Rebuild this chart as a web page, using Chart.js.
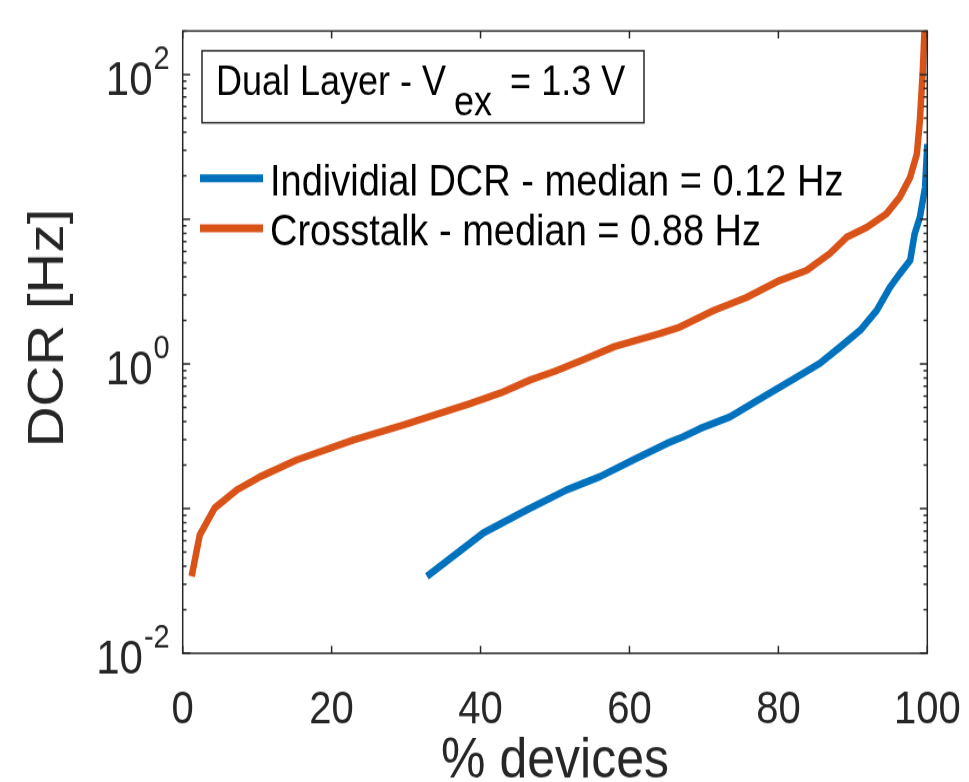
<!DOCTYPE html>
<html>
<head>
<meta charset="utf-8">
<script src="https://cdn.jsdelivr.net/npm/chart.js@4.4.1/dist/chart.umd.min.js"></script>
<style>
  html, body { margin: 0; padding: 0; background: #fff; overflow: hidden; }
  #chart { display: block; }
</style>
</head>
<body>
<canvas id="chart" width="969" height="692" style="width:969px;height:782px"></canvas>
<script>
// values (x = % devices, y = DCR in Hz)
const individualX = [32.8, 40.4, 46.2, 51.6, 56.0, 60.5, 65.0, 67.2, 69.5, 73.5, 78.0, 82.5, 85.6, 88.3, 91.0, 93.2, 95.0, 96.3, 97.7, 98.3, 99.0, 99.7, 100];
const individualDCR = [0.034, 0.068, 0.098, 0.135, 0.166, 0.217, 0.282, 0.314, 0.358, 0.431, 0.592, 0.813, 1.01, 1.31, 1.71, 2.34, 3.40, 4.20, 5.19, 7.94, 10.3, 16.6, 33.1];
const crosstalkX = [1.2, 2.3, 4.3, 7.3, 10.4, 15.3, 22.9, 29.6, 38.6, 42.7, 46.7, 50.0, 54.0, 58.0, 64.1, 66.8, 71.3, 75.7, 80.2, 83.8, 86.9, 89.2, 91.9, 94.5, 96.3, 97.7, 98.6, 99.0, 99.4, 99.7];
const crosstalkDCR = [0.034, 0.066, 0.101, 0.135, 0.166, 0.217, 0.298, 0.378, 0.533, 0.63, 0.776, 0.89, 1.08, 1.32, 1.62, 1.80, 2.34, 2.88, 3.78, 4.43, 5.79, 7.52, 8.81, 10.9, 14.2, 19.5, 28.2, 47.9, 107, 250];

const seriesLabels = ['Individial DCR - median = 0.12 Hz', 'Crosstalk - median = 0.88 Hz'];
const xTicks = [0, 20, 40, 60, 80, 100];
const yTicks = [0.01, 1, 100];
const yTickExp = ['-2', '0', '2'];
const boxText = ['Dual Layer - V', 'ex', ' = 1.3 V'];

const FONT = '"Liberation Sans", Arial, Helvetica, sans-serif';
const AXIS = '#262626';

// box, inward ticks, y labels with exponents, legend and text box
const axesBox = {
  id: 'axesBox',
  afterDatasetsDraw(chart) {
    const { ctx, chartArea: a, scales: { x, y } } = chart;
    ctx.save();
    ctx.strokeStyle = AXIS;
    ctx.lineWidth = 1.5;
    ctx.strokeRect(a.left, a.top, a.right - a.left, a.bottom - a.top);

    ctx.beginPath();
    xTicks.forEach(v => {
      const px = x.getPixelForValue(v);
      ctx.moveTo(px, a.bottom); ctx.lineTo(px, a.bottom - 6.5);
      ctx.moveTo(px, a.top); ctx.lineTo(px, a.top + 6.5);
    });
    for (let e = -2; e <= 2; e++) {
      for (let m = 1; m <= 9; m++) {
        const v = m * Math.pow(10, e);
        if (v < y.min || v > y.max) continue;
        const py = y.getPixelForValue(v);
        const len = m === 1 ? 7.5 : 3.8;
        ctx.moveTo(a.left, py); ctx.lineTo(a.left + len, py);
        ctx.moveTo(a.right, py); ctx.lineTo(a.right - len, py);
      }
    }
    ctx.stroke();

    // y tick labels 10^n
    ctx.fillStyle = AXIS;
    ctx.textAlign = 'right';
    ctx.textBaseline = 'middle';
    yTicks.forEach((v, i) => {
      const py = y.getPixelForValue(v);
      const ex = a.left - 13;
      ctx.font = '29px ' + FONT;
      const ew = ctx.measureText(yTickExp[i]).width;
      ctx.fillText(yTickExp[i], ex, py - 13);
      ctx.font = '42px ' + FONT;
      ctx.fillText('10', ex - ew - 1, py + 6);
    });

    // legend (no frame)
    ctx.textAlign = 'left';
    ctx.font = '38px ' + FONT;
    chart.data.datasets.forEach((ds, i) => {
      const ly = a.top + 130.4 + i * 44.2;
      ctx.strokeStyle = ds.borderColor;
      ctx.lineWidth = 7;
      ctx.beginPath();
      ctx.moveTo(a.left + 17.3, ly);
      ctx.lineTo(a.left + 80.3, ly);
      ctx.stroke();
      ctx.fillStyle = '#000';
      ctx.fillText(ds.label, a.left + 87.3, ly + 5);
    });

    // text box
    const bx = a.left + 19.3, by = a.top + 17.5;
    ctx.fillStyle = '#fff';
    ctx.fillRect(bx, by, 442, 63.7);
    ctx.strokeStyle = AXIS;
    ctx.lineWidth = 1.5;
    ctx.strokeRect(bx, by, 442, 63.7);
    ctx.fillStyle = '#000';
    ctx.font = '36px ' + FONT;
    ctx.textBaseline = 'alphabetic';
    let tx = bx + 14;
    ctx.fillText(boxText[0], tx, a.top + 56.7);
    tx += ctx.measureText(boxText[0]).width + 8;
    ctx.fillText(boxText[1], tx, a.top + 74.4);
    tx += ctx.measureText(boxText[1]).width + 8;
    ctx.fillText(boxText[2], tx, a.top + 56.7);
    ctx.restore();
  }
};

new Chart(document.getElementById('chart'), {
  type: 'line',
  data: {
    datasets: [{
      label: seriesLabels[0],
      data: individualX.map((v, i) => ({ x: v, y: individualDCR[i] })),
      borderColor: '#0072BD',
      borderWidth: 6.5,
      borderJoinStyle: 'round',
      pointRadius: 0,
      tension: 0,
      clip: 0
    }, {
      label: seriesLabels[1],
      data: crosstalkX.map((v, i) => ({ x: v, y: crosstalkDCR[i] })),
      borderColor: '#D95319',
      borderWidth: 6.5,
      borderJoinStyle: 'round',
      pointRadius: 0,
      tension: 0,
      clip: 0
    }]
  },
  options: {
    responsive: false,
    animation: false,
    devicePixelRatio: 1,
    layout: { padding: { top: 27.4, right: 41.7, left: 0, bottom: 0 } },
    plugins: { legend: { display: false }, tooltip: { enabled: false } },
    scales: {
      x: {
        type: 'linear',
        min: 0,
        max: 100,
        afterBuildTicks: s => { s.ticks = xTicks.map(v => ({ value: v })); },
        afterFit: s => { s.height = 113.9; s.paddingLeft = 0; s.paddingRight = 0; },
        grid: { display: false },
        border: { display: false },
        ticks: { padding: 18.5, maxRotation: 0, autoSkip: false, color: AXIS, font: { family: FONT, size: 40 } },
        title: { display: true, text: '% devices', color: AXIS, padding: 0, font: { family: FONT, size: 50, lineHeight: 0.72 } }
      },
      y: {
        type: 'logarithmic',
        min: 0.01,
        max: 200,
        afterBuildTicks: s => { s.ticks = yTicks.map(v => ({ value: v })); },
        afterFit: s => { s.width = 182.7; s.paddingTop = 0; s.paddingBottom = 0; },
        grid: { display: false },
        border: { display: false },
        ticks: { display: false },
        // leading en space nudges the label up a little, as in the figure
        title: { display: true, text: '\u2002DCR [Hz]', color: AXIS, padding: { top: 19, bottom: 0 }, font: { family: FONT, size: 50 } }
      }
    }
  },
  plugins: [axesBox]
});
</script>
</body>
</html>
